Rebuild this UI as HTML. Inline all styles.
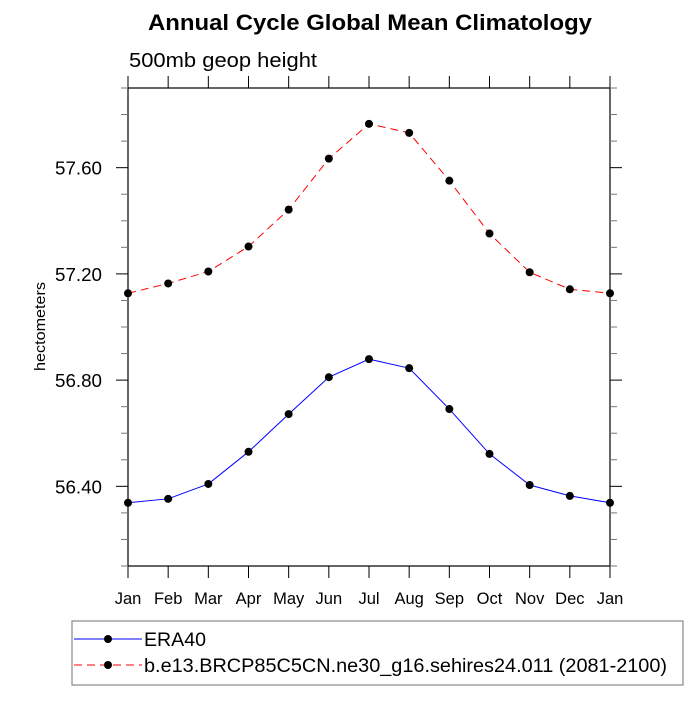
<!DOCTYPE html>
<html><head><meta charset="utf-8"><style>
body{margin:0;background:#fff;font-family:"Liberation Sans",sans-serif}
svg text{font-family:"Liberation Sans",sans-serif}
</style></head><body>
<svg id="c" width="700" height="700" xmlns="http://www.w3.org/2000/svg">
<text x="148" y="30" textLength="444" lengthAdjust="spacingAndGlyphs" font-size="22" font-weight="bold">Annual Cycle Global Mean Climatology</text>
<text x="129" y="67" textLength="188" lengthAdjust="spacingAndGlyphs" font-size="20">500mb geop height</text>
<text transform="translate(45,327) rotate(-90)" x="-44" textLength="89" lengthAdjust="spacingAndGlyphs" font-size="15">hectometers</text>
<rect x="128" y="88" width="482" height="478" fill="none" stroke="#000" stroke-width="1.2"/>
<g id="ax"></g><g id="series"></g>
<rect x="72" y="621" width="611" height="64" fill="none" stroke="#888" stroke-width="1.2"/>
<g>
<line x1="74" y1="639" x2="142" y2="639" stroke="#00f" stroke-width="1"/>
<circle cx="108" cy="639" r="4" fill="#000"/>
<text x="144" y="646" textLength="62" lengthAdjust="spacingAndGlyphs" font-size="19">ERA40</text></g>
<g>
<line x1="74" y1="665" x2="142" y2="665" stroke="#f00" stroke-width="1" stroke-dasharray="8,5"/>
<circle cx="108" cy="665" r="4" fill="#000"/>
<text x="144" y="672" textLength="523" lengthAdjust="spacingAndGlyphs" font-size="19">b.e13.BRCP85C5CN.ne30_g16.sehires24.011 (2081-2100)</text></g>
</svg>
<script>
const months=["Jan","Feb","Mar","Apr","May","Jun","Jul","Aug","Sep","Oct","Nov","Dec","Jan"];
const era40=[56.338,56.353,56.409,56.530,56.672,56.811,56.879,56.845,56.691,56.522,56.405,56.364,56.338];
const model=[57.127,57.164,57.209,57.303,57.442,57.634,57.765,57.731,57.551,57.352,57.206,57.142,57.127];
const yTicks=[56.40,56.80,57.20,57.60];
const yMin=56.1,yMax=57.9;
const X0=128,X1=610,Y0=566,Y1=88;
const xs=i=>X0+i*(X1-X0)/(months.length-1);
const ys=v=>Y0-(v-yMin)/(yMax-yMin)*(Y0-Y1);
const NS="http://www.w3.org/2000/svg";
const ax=document.getElementById('ax'),sg=document.getElementById('series');
function mk(t,a,p){const e=document.createElementNS(NS,t);for(const k in a)e.setAttribute(k,a[k]);p.appendChild(e);return e;}
months.forEach((m,i)=>{const x=xs(i);
 mk('line',{x1:x,y1:Y0,x2:x,y2:Y0+12,stroke:'#000'},ax);
 mk('line',{x1:x,y1:Y1,x2:x,y2:Y1-12,stroke:'#000'},ax);
 const t=mk('text',{x:x,y:604,'text-anchor':'middle','font-size':16.5},ax);t.textContent=m;
 
 
});
for(let k=0;k<=18;k++){const v=yMin+k*0.1,y=ys(v);
 const major=yTicks.some(t=>Math.abs(t-v)<1e-6);const L=major?12:7;
 mk('line',{x1:X0,y1:y,x2:X0-L,y2:y,stroke:major?'#000':'#777'},ax);
 mk('line',{x1:X1,y1:y,x2:X1+L,y2:y,stroke:major?'#000':'#777'},ax);}
yTicks.forEach(v=>{const t=mk('text',{x:55,y:ys(v)+7,textLength:47,lengthAdjust:'spacingAndGlyphs','font-size':18.5},ax);t.textContent=v.toFixed(2);
 
 });
function draw(arr,col,dash,name){
 const p=mk('polyline',{points:arr.map((v,i)=>xs(i)+','+ys(v)).join(' '),fill:'none',stroke:col,'stroke-width':1,'stroke-dasharray':dash},sg);
 
 
 arr.forEach((v,i)=>{const c=mk('circle',{cx:xs(i),cy:ys(v),r:4,fill:'#000'},sg);
  
  });
}
draw(model,'#f00','8,5','model');
draw(era40,'#00f','none','era40');
</script>
</body></html>
